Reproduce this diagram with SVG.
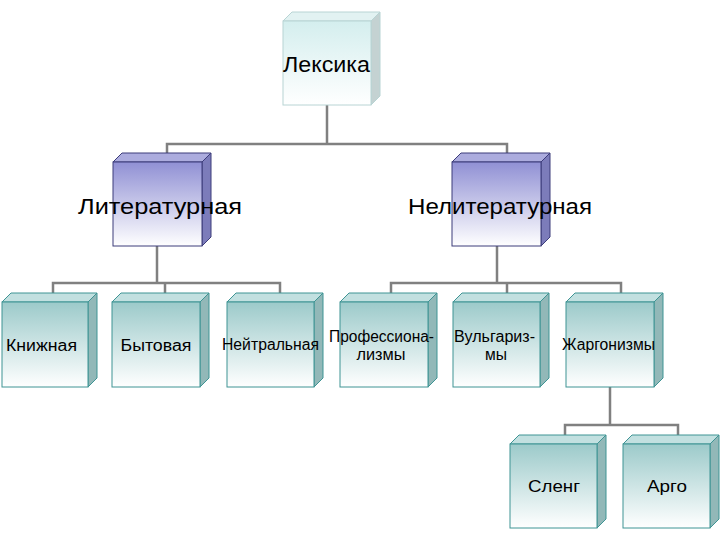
<svg xmlns="http://www.w3.org/2000/svg" width="720" height="540" viewBox="0 0 720 540">
<defs>
<linearGradient id="gT" x1="0" y1="0" x2="0" y2="1"><stop offset="0" stop-color="#9ccaca"/><stop offset="1" stop-color="#ffffff"/></linearGradient>
<linearGradient id="gP" x1="0" y1="0" x2="0" y2="1"><stop offset="0" stop-color="#9090d4"/><stop offset="1" stop-color="#ffffff"/></linearGradient>
<linearGradient id="gL" x1="0" y1="0" x2="0" y2="1"><stop offset="0" stop-color="#d4eeee"/><stop offset="1" stop-color="#ffffff"/></linearGradient>
<style>
.t .f{fill:url(#gT);stroke:#3f9494;stroke-width:1}
.t .tp{fill:#c2e0e0;stroke:#3f9494;stroke-width:1}
.t .sd{fill:#92b8b8;stroke:#3f9494;stroke-width:1}
.p .f{fill:url(#gP);stroke:#3c3c7a;stroke-width:1}
.p .tp{fill:#acacde;stroke:#3c3c7a;stroke-width:1}
.p .sd{fill:#7c7cba;stroke:#3c3c7a;stroke-width:1}
.l .f{fill:url(#gL);stroke:#b8d4d4;stroke-width:1}
.l .tp{fill:#e2f2f2;stroke:#b8d4d4;stroke-width:1}
.l .sd{fill:#c4d2d2;stroke:#b8d4d4;stroke-width:1}
text{font-family:"Liberation Sans",Arial,sans-serif;fill:#000;text-anchor:middle}
.big{font-size:22px}
.sm{font-size:16px}
.conn{fill:none;stroke:#808080;stroke-width:2.5}
</style>
</defs>
<g id="connectors" class="conn">
<path d="M327 105V144M167 153V144H507V153"/>
<path d="M157 246V283M53 293V283H280V293M165 283V293"/>
<path d="M497 246V283M391 293V283H621V293M507 283V293"/>
<path d="M610 387V425M565 435V425H678V435"/>
</g>
<g id="n-leksika" class="l">
<path class="tp" d="M283 21L292 12H380L371 21Z"/>
<path class="sd" d="M371 21L380 12V96L371 105Z"/>
<rect class="f" x="283" y="21" width="88" height="84"/>
<text class="big" x="326.5" y="72" textLength="87" lengthAdjust="spacingAndGlyphs">Лексика</text>
</g>
<g id="n-lit" class="p">
<path class="tp" d="M113 162L122 153H211L202 162Z"/>
<path class="sd" d="M202 162L211 153V237L202 246Z"/>
<rect class="f" x="113" y="162" width="89" height="84"/>
<text class="big" x="160" y="214" textLength="164" lengthAdjust="spacingAndGlyphs">Литературная</text>
</g>
<g id="n-nelit" class="p">
<path class="tp" d="M452 162L461 153H550L541 162Z"/>
<path class="sd" d="M541 162L550 153V237L541 246Z"/>
<rect class="f" x="452" y="162" width="89" height="84"/>
<text class="big" x="500" y="214" textLength="184" lengthAdjust="spacingAndGlyphs">Нелитературная</text>
</g>
<g id="n-knizh" class="t">
<path class="tp" d="M2 302L11 293H97L88 302Z"/>
<path class="sd" d="M88 302L97 293V378L88 387Z"/>
<rect class="f" x="2" y="302" width="86" height="85"/>
<text class="sm" x="41.5" y="351" textLength="71" lengthAdjust="spacingAndGlyphs">Книжная</text>
</g>
<g id="n-byt" class="t">
<path class="tp" d="M112 302L121 293H209L200 302Z"/>
<path class="sd" d="M200 302L209 293V378L200 387Z"/>
<rect class="f" x="112" y="302" width="88" height="85"/>
<text class="sm" x="156" y="351" textLength="71" lengthAdjust="spacingAndGlyphs">Бытовая</text>
</g>
<g id="n-neitr" class="t">
<path class="tp" d="M227 302L236 293H323L314 302Z"/>
<path class="sd" d="M314 302L323 293V378L314 387Z"/>
<rect class="f" x="227" y="302" width="87" height="85"/>
<text class="sm" x="270.5" y="350" textLength="97" lengthAdjust="spacingAndGlyphs">Нейтральная</text>
</g>
<g id="n-prof" class="t">
<path class="tp" d="M340 302L349 293H437L428 302Z"/>
<path class="sd" d="M428 302L437 293V378L428 387Z"/>
<rect class="f" x="340" y="302" width="88" height="85"/>
<text class="sm" x="381.5" y="342" textLength="105" lengthAdjust="spacingAndGlyphs">Профессиона-</text>
<text class="sm" x="381" y="360" textLength="49" lengthAdjust="spacingAndGlyphs">лизмы</text>
</g>
<g id="n-vulg" class="t">
<path class="tp" d="M453 302L462 293H549L540 302Z"/>
<path class="sd" d="M540 302L549 293V378L540 387Z"/>
<rect class="f" x="453" y="302" width="87" height="85"/>
<text class="sm" x="494.5" y="342" textLength="81" lengthAdjust="spacingAndGlyphs">Вульгариз-</text>
<text class="sm" x="496" y="360" textLength="22" lengthAdjust="spacingAndGlyphs">мы</text>
</g>
<g id="n-zharg" class="t">
<path class="tp" d="M566 302L575 293H663L654 302Z"/>
<path class="sd" d="M654 302L663 293V378L654 387Z"/>
<rect class="f" x="566" y="302" width="88" height="85"/>
<text class="sm" x="608.5" y="350" textLength="93" lengthAdjust="spacingAndGlyphs">Жаргонизмы</text>
</g>
<g id="n-sleng" class="t">
<path class="tp" d="M510 444L519 435H606L597 444Z"/>
<path class="sd" d="M597 444L606 435V519L597 528Z"/>
<rect class="f" x="510" y="444" width="87" height="84"/>
<text class="sm" x="554" y="492" textLength="52" lengthAdjust="spacingAndGlyphs">Сленг</text>
</g>
<g id="n-argo" class="t">
<path class="tp" d="M623 444L632 435H719L710 444Z"/>
<path class="sd" d="M710 444L719 435V519L710 528Z"/>
<rect class="f" x="623" y="444" width="87" height="84"/>
<text class="sm" x="667" y="492" textLength="40" lengthAdjust="spacingAndGlyphs">Арго</text>
</g>
</svg>
